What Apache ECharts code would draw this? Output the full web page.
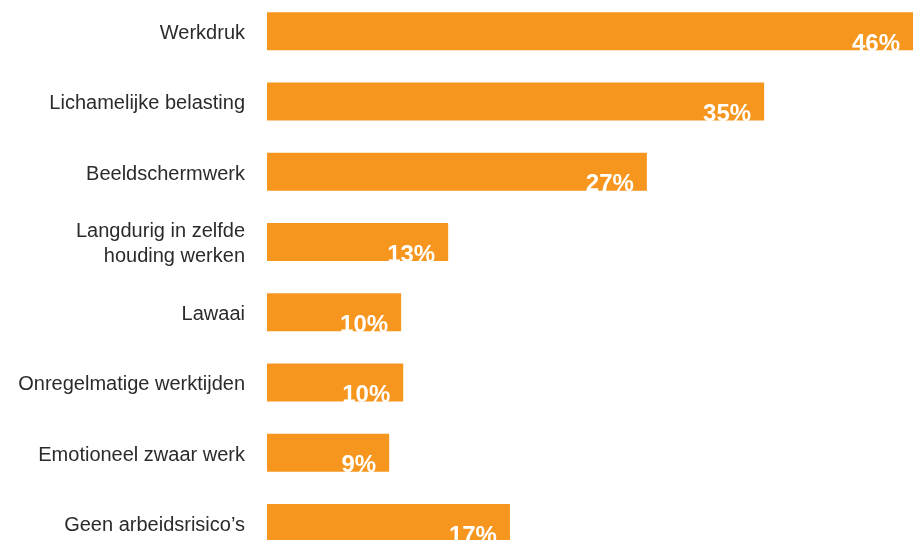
<!DOCTYPE html>
<html>
<head>
<meta charset="utf-8">
<script src="https://cdn.jsdelivr.net/npm/echarts@6/dist/echarts.min.js"></script>
<style>html,body{margin:0;padding:0;background:#fff;overflow:hidden;width:913px;height:540px}#c{position:absolute;left:0;top:-4px;width:913px;height:562px}</style>
</head>
<body>
<div id="c"></div>
<script>
const categories = ["Werkdruk", "Lichamelijke belasting", "Beeldschermwerk", "Langdurig in zelfde\nhouding werken", "Lawaai", "Onregelmatige werktijden", "Emotioneel zwaar werk", "Geen arbeidsrisico’s"];
const values = [46, 35.4, 27.05, 12.9, 9.55, 9.7, 8.7, 17.3];
const labels = ["46%", "35%", "27%", "13%", "10%", "10%", "9%", "17%"];

const chart = echarts.init(document.getElementById('c'));
chart.setOption({
  animation: false,
  grid: { left: 267, right: 0, top: 0, bottom: 0, containLabel: false, outerBoundsMode: 'none' },
  xAxis: { type: 'value', min: 0, max: 46, show: false },
  yAxis: {
    type: 'category', data: categories, inverse: true,
    axisLine: { show: false }, axisTick: { show: false }, splitLine: { show: false },
    axisLabel: {
      margin: 22, color: '#2b2b2b', fontSize: 20, fontFamily: 'Liberation Sans', align: 'right',
      formatter: v => v.split('\n').map(l => '{a|' + l + '}').join('\n'),
      rich: { a: { color: '#2b2b2b', fontSize: 20, fontFamily: 'Liberation Sans', lineHeight: 25, padding: [5, 0, 0, 0] } }
    }
  },
  series: [{
    type: 'bar', data: values, barWidth: 38,
    itemStyle: { color: '#F7961E' },
    label: {
      show: true, position: 'insideRight', offset: [-8, 13],
      formatter: p => labels[p.dataIndex],
      color: '#fff', fontWeight: 'bold', fontSize: 24, fontFamily: 'Liberation Sans'
    }
  }]
});
</script>
</body>
</html>
